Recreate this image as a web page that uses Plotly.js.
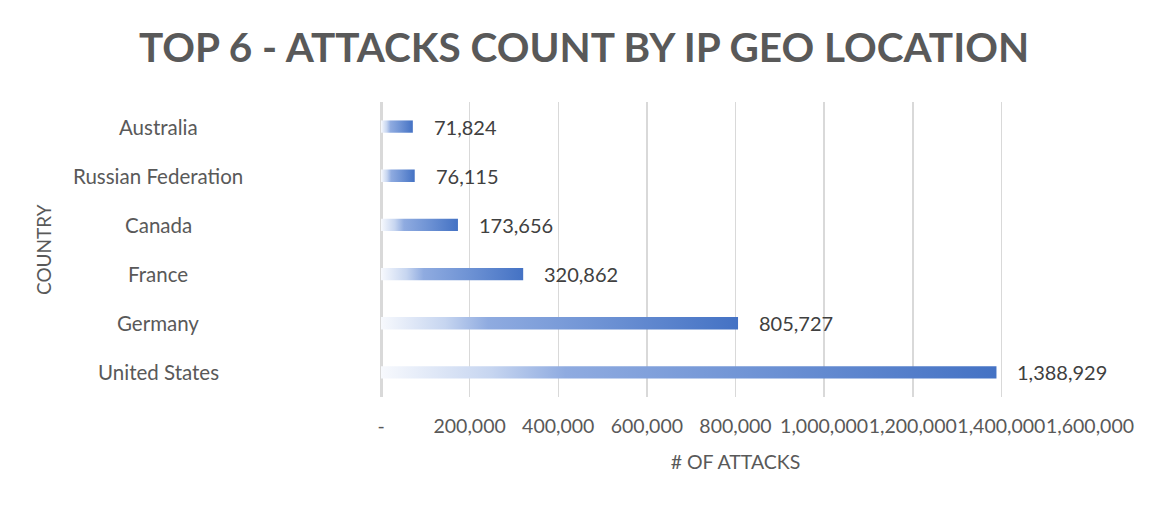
<!DOCTYPE html>
<html><head><meta charset="utf-8">
<script src="https://cdn.plot.ly/plotly-3.0.1.min.js"></script>
<style>html,body{margin:0;padding:0;background:#fff;}#chart{width:1168px;height:505px;}</style>
</head><body><div id="chart"></div>
<script>
const countries = ["United States", "Germany", "France", "Canada", "Russian Federation", "Australia"];
const attacks = [1388929, 805727, 320862, 173656, 76115, 71824];
const tickVals = [0, 200000, 400000, 600000, 800000, 1000000, 1200000, 1400000, 1600000];
const tickText = ["-", "200,000", "400,000", "600,000", "800,000", "1,000,000", "1,200,000", "1,400,000", "1,600,000"];

const FONT = "Lato, 'Open Sans', sans-serif";
const fmt = v => v.toLocaleString("en-US");

const trace = {
  type: "bar", orientation: "h",
  x: attacks, y: countries,
  width: 0.25,
  marker: {color: "#4472C4"},
  hoverinfo: "x+y"
};

const annotations = [];
countries.forEach((c, i) => {
  annotations.push({x: attacks[i], y: c, xref: "x", yref: "y", text: fmt(attacks[i]),
    showarrow: false, xanchor: "left", xshift: 19, font: {family: FONT, size: 20, color: "#404040"}});
  annotations.push({x: -0.314, y: c, xref: "paper", yref: "y", text: c,
    showarrow: false, xanchor: "center", font: {family: FONT, size: 20.5, color: "#595959"}});
});
annotations.push({x: -0.476, y: 0.5, xref: "paper", yref: "paper", text: "COUNTRY", textangle: -90,
  showarrow: false, xanchor: "center", yanchor: "middle", font: {family: FONT, size: 19, color: "#595959"}});

const layout = {
  width: 1168, height: 505,
  paper_bgcolor: "#fff", plot_bgcolor: "#fff",
  margin: {l: 381, r: 78, t: 102, b: 108},
  showlegend: false,
  title: {text: "<b>TOP 6 - ATTACKS COUNT BY IP GEO LOCATION</b>", x: 0.5, xanchor: "center", y: 0.905, yanchor: "middle",
    font: {family: FONT, size: 40.5, color: "#595959"}},
  xaxis: {range: [0, 1600000], tickvals: tickVals, ticktext: tickText, tickangle: 0,
    showgrid: true, gridcolor: "#d9d9d9", gridwidth: 1.5,
    zeroline: true, zerolinecolor: "#d9d9d9", zerolinewidth: 3,
    showline: false, ticks: "", ticklabelstandoff: 15,
    tickfont: {family: FONT, size: 19.5, color: "#595959"},
    title: {text: "# OF ATTACKS", standoff: 19, font: {family: FONT, size: 19.5, color: "#595959"}},
    automargin: false, fixedrange: true},
  yaxis: {type: "category", categoryorder: "array", categoryarray: countries,
    showticklabels: false, showgrid: false, zeroline: false, ticks: "",
    fixedrange: true},
  annotations: annotations
};

Plotly.newPlot("chart", [trace], layout, {displayModeBar: false, staticPlot: true}).then(gd => {
  const svg = gd.querySelector("svg.main-svg");
  const ns = "http://www.w3.org/2000/svg";
  let defs = svg.querySelector("defs");
  const grad = document.createElementNS(ns, "linearGradient");
  grad.setAttribute("id", "barGrad");
  grad.setAttribute("x1", "0"); grad.setAttribute("x2", "1");
  grad.setAttribute("y1", "0"); grad.setAttribute("y2", "0");
  [["0", "#f7f9fd"], ["0.18", "#c6d5f0"], ["0.3", "#8fabe0"], ["0.6", "#7094d5"], ["1", "#4472C4"]].forEach(([o, c]) => {
    const s = document.createElementNS(ns, "stop");
    s.setAttribute("offset", o); s.setAttribute("stop-color", c);
    grad.appendChild(s);
  });
  defs.appendChild(grad);
  gd.querySelectorAll(".bars .point path").forEach(p => { p.style.fill = "url(#barGrad)"; });
});
</script>
</body></html>
